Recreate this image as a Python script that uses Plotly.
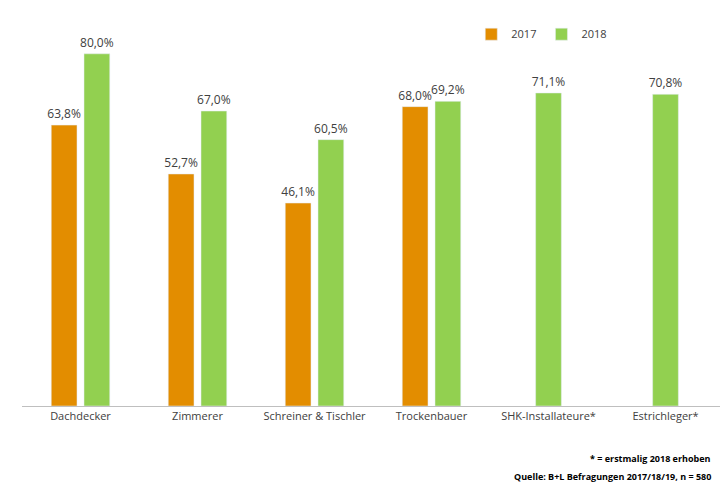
import plotly.graph_objects as go

cats = ["Dachdecker", "Zimmerer", "Schreiner & Tischler", "Trockenbauer", "SHK-Installateure*", "Estrichleger*"]
v2017 = [63.8, 52.7, 46.1, 68.0, None, None]
v2018 = [80.0, 67.0, 60.5, 69.2, 71.1, 70.8]

def lab(v):
    return "" if v is None else f"{v:.1f}".replace(".", ",") + "%"

w = 0.22
off17 = [-0.25] * 6
off18 = [0.03 if a is not None else -w / 2 for a in v2017]

fig = go.Figure()
fig.add_bar(x=cats, y=v2017, name="2017", marker_color="#E38D00", width=w, offset=off17,
            text=[lab(v) for v in v2017], textposition="outside", cliponaxis=False,
            constraintext="none", textfont=dict(size=12, color="#404040"))
fig.add_bar(x=cats, y=v2018, name="2018", marker_color="#92D050", width=w, offset=off18,
            text=[lab(v) for v in v2018], textposition="outside", cliponaxis=False,
            constraintext="none", textfont=dict(size=12, color="#404040"))

fig.update_layout(
    width=728, height=490, barmode="overlay",
    margin=dict(l=14, r=12, t=30, b=92),
    plot_bgcolor="white", paper_bgcolor="white",
    font=dict(family="Open Sans, Liberation Sans", size=11, color="#404040"),
    legend=dict(orientation="h", x=0.64, y=1.03, xanchor="left", yanchor="middle",
                font=dict(size=11), itemwidth=30),
    yaxis=dict(range=[0, 82], visible=False),
    xaxis=dict(showline=True, linecolor="#BFBFBF", ticks="", tickfont=dict(size=11)),
    annotations=[
        dict(text="<b>* = erstmalig 2018 erhoben</b>", x=0.985, y=-0.17, xref="paper", yref="paper",
             xanchor="right", showarrow=False, font=dict(size=9, color="#000")),
        dict(text="<b>Quelle: B+L Befragungen 2017/18/19, n = 580</b>", x=0.985, y=-0.22, xref="paper", yref="paper",
             xanchor="right", showarrow=False, font=dict(size=9, color="#000")),
    ],
)
fig.write_html("out.html")
